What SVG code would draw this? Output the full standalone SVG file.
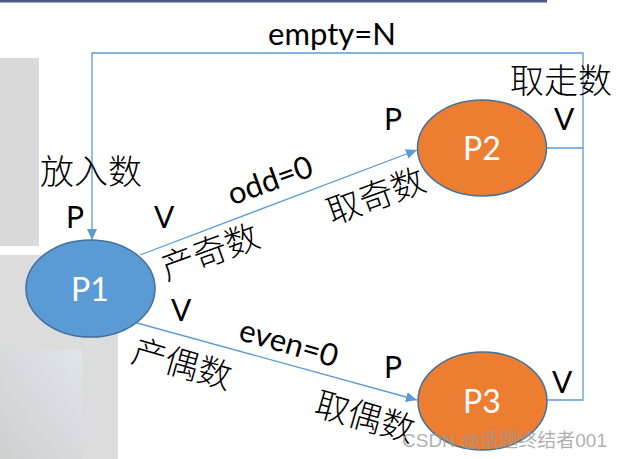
<svg xmlns="http://www.w3.org/2000/svg" width="624" height="459" viewBox="0 0 624 459">
<defs>
<style>
.conn{fill:none;stroke:#5B9BD5;stroke-width:1.3}
.node-b{fill:#5B9BD5;stroke:#41719C;stroke-width:1.5}
.node-o{fill:#ED7D31;stroke:#41719C;stroke-width:1.5}
.nl{font-family:Lato,"Open Sans","Liberation Sans",sans-serif;font-size:32px;fill:#ffffff;text-anchor:middle}
.pv{font-family:Lato,"Open Sans","Liberation Sans",sans-serif;font-size:30px;fill:#000000}
.lat{font-family:Lato,"Open Sans","Liberation Sans",sans-serif;font-size:31px;fill:#000000;text-anchor:middle}
.cjk{font-family:"Noto Sans CJK SC",sans-serif;font-size:34px;font-weight:300;fill:#000000;text-anchor:middle}
</style>
<marker id="arr" markerWidth="12" markerHeight="10" refX="11" refY="5" orient="auto" markerUnits="userSpaceOnUse">
<path d="M0,0 L11,5 L0,10 Z" fill="#5B9BD5"/>
</marker>
<linearGradient id="g1" x1="1" y1="0" x2="0" y2="1">
<stop offset="0" stop-color="#dfe5ec"/>
<stop offset="1" stop-color="#cfcfcf"/>
</linearGradient>
</defs>
<rect x="0" y="0" width="624" height="459" fill="#ffffff"/>
<rect x="0" y="0" width="547" height="2.5" fill="#4a5b84"/>
<rect x="0" y="58" width="39" height="188" fill="#d9d9d9"/>
<rect x="0" y="255" width="118" height="204" fill="#dcdcdc"/>
<rect x="0" y="350" width="82" height="109" fill="url(#g1)"/>

<g id="connectors">
<polyline class="conn" points="546,148 583,148 583,53 92,53 92,240" marker-end="url(#arr)"/>
<polyline class="conn" points="548,400 583,400 583,148"/>
<line class="conn" x1="140" y1="255" x2="417" y2="150" marker-end="url(#arr)"/>
<line class="conn" x1="137" y1="323" x2="417" y2="400" marker-end="url(#arr)"/>
</g>

<g id="P1">
<ellipse class="node-b" cx="90.5" cy="288.5" rx="64.5" ry="48.5"/>
<text class="nl" x="90" y="301">P1</text>
</g>
<g id="P2">
<ellipse class="node-o" cx="482" cy="148" rx="64.5" ry="48"/>
<text class="nl" x="482" y="160">P2</text>
</g>
<g id="P3">
<ellipse class="node-o" cx="482.5" cy="401" rx="64.5" ry="49"/>
<text class="nl" x="482" y="413">P3</text>
</g>

<g id="labels">
<text class="lat" x="332" y="45">empty=N</text>
<text class="cjk" x="561" y="93">取走数</text>
<text class="cjk" x="91" y="184">放入数</text>
<text class="pv" x="66" y="228">P</text>
<text class="pv" x="154" y="228">V</text>
<text class="pv" x="171" y="321">V</text>
<text class="pv" x="384" y="130">P</text>
<text class="pv" x="554" y="130">V</text>
<text class="pv" x="384" y="378">P</text>
<text class="pv" x="552" y="393">V</text>
<text class="lat" transform="translate(270,180) rotate(-20)" x="0" y="11">odd=0</text>
<text class="cjk" transform="translate(210,252) rotate(-20)" x="0" y="12">产奇数</text>
<text class="cjk" transform="translate(376,196) rotate(-20)" x="0" y="12">取奇数</text>
<text class="lat" transform="translate(289,343) rotate(16)" x="0" y="11">even=0</text>
<text class="cjk" transform="translate(182,364) rotate(16)" x="0" y="12">产偶数</text>
<text class="cjk" transform="translate(365,417) rotate(16)" x="0" y="12">取偶数</text>
<text x="402" y="447" font-family="'Liberation Sans','Noto Sans CJK SC',sans-serif" font-size="19" fill="#9a9a9a" fill-opacity="0.8" textLength="205" lengthAdjust="spacingAndGlyphs">CSDN @话题终结者001</text>
</g>
</svg>
